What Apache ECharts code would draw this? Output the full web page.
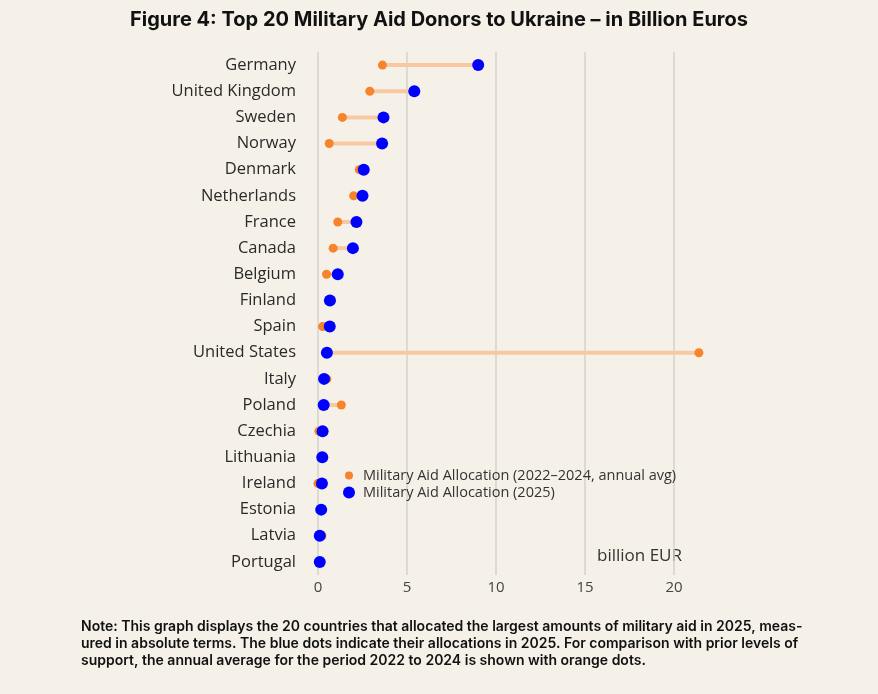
<!DOCTYPE html>
<html><head><meta charset="utf-8">
<script src="https://cdn.jsdelivr.net/npm/echarts@6/dist/echarts.min.js"></script>
<style>html,body{margin:0;padding:0;background:#f5f1e8;}#c{width:878px;height:694px;}</style>
</head><body><div id="c"></div>
<script>
const countries = ["Germany","United Kingdom","Sweden","Norway","Denmark","Netherlands","France","Canada","Belgium","Finland","Spain","United States","Italy","Poland","Czechia","Lithuania","Ireland","Estonia","Latvia","Portugal"];
const avg2022_2024 = [3.62,2.91,1.37,0.63,2.32,2.0,1.11,0.85,0.48,0.75,0.26,21.4,0.5,1.31,0.05,0.2,0.0,0.15,0.22,0.05];
const alloc2025 = [9.0,5.41,3.68,3.6,2.57,2.5,2.16,1.96,1.11,0.67,0.66,0.5,0.34,0.32,0.26,0.24,0.22,0.18,0.1,0.1];
const xTicks = [0,5,10,15,20];
const nameAvg = 'Military Aid Allocation (2022\u20132024, annual avg)';
const name25 = 'Military Aid Allocation (2025)';

const chart = echarts.init(document.getElementById('c'));
const connData = countries.map((c,i)=>[avg2022_2024[i], alloc2025[i], c]);
chart.setOption({
  backgroundColor:'#f5f1e8',
  animation:false,
  title:{text:'Figure 4: Top 20 Military Aid Donors to Ukraine \u2013 in Billion Euros',left:'center',top:5,
    textStyle:{fontFamily:'Inter',fontWeight:'bold',fontSize:20,color:'#111'}},
  grid:{left:318,right:204,top:52,bottom:119,containLabel:false},
  xAxis:{type:'value',min:xTicks[0],max:xTicks[xTicks.length-1],interval:5,
    axisLine:{show:false},axisTick:{show:false},
    axisLabel:{fontFamily:'Open Sans',fontSize:15,color:'#444',margin:5},
    splitLine:{lineStyle:{color:'#d4d2cc',width:1.5}}},
  yAxis:{type:'category',data:countries,inverse:true,
    axisLine:{show:false},axisTick:{show:false},
    axisLabel:{fontFamily:'Open Sans',fontSize:16.5,color:'#2a2a2a',margin:22}},
  legend:[
    {orient:'vertical',left:340,top:463,itemWidth:8,itemHeight:8,
      textStyle:{fontFamily:'Open Sans',fontSize:14.5,color:'#333',padding:[0,0,0,5]},
      data:[{name:nameAvg,icon:'circle'}]},
    {orient:'vertical',left:338,top:480,itemWidth:12,itemHeight:12,
      textStyle:{fontFamily:'Open Sans',fontSize:14.5,color:'#333',padding:[0,0,0,3]},
      data:[{name:name25,icon:'circle'}]}
  ],
  graphic:[
    {type:'text',left:597,top:548,style:{text:'billion EUR',font:'17px "Open Sans"',fill:'#333'}},
    {type:'text',left:81,top:618,style:{text:'Note: This graph displays the 20 countries that allocated the largest amounts of military aid in 2025, meas-\nured in absolute terms. The blue dots indicate their allocations in 2025. For comparison with prior levels of\nsupport, the annual average for the period 2022 to 2024 is shown with orange dots.',
      font:'600 14px Inter',fill:'#111',lineHeight:17}}
  ],
  series:[
    {type:'custom',clip:false,silent:true,data:connData,encode:{x:[0,1],y:2},
      renderItem:function(params,api){
        const a=api.coord([api.value(0),api.value(2)]);
        const b=api.coord([api.value(1),api.value(2)]);
        return {type:'line',shape:{x1:a[0],y1:a[1],x2:b[0],y2:b[1]},style:{stroke:'#f7c9a2',lineWidth:4}};
      }},
    {name:nameAvg,type:'scatter',clip:false,symbolSize:9,
      itemStyle:{color:'#f7832a',opacity:1},data:countries.map((c,i)=>[avg2022_2024[i],c])},
    {name:name25,type:'scatter',clip:false,symbolSize:12,
      itemStyle:{color:'#0000ff',opacity:1},data:countries.map((c,i)=>[alloc2025[i],c])}
  ]
});
</script></body></html>
